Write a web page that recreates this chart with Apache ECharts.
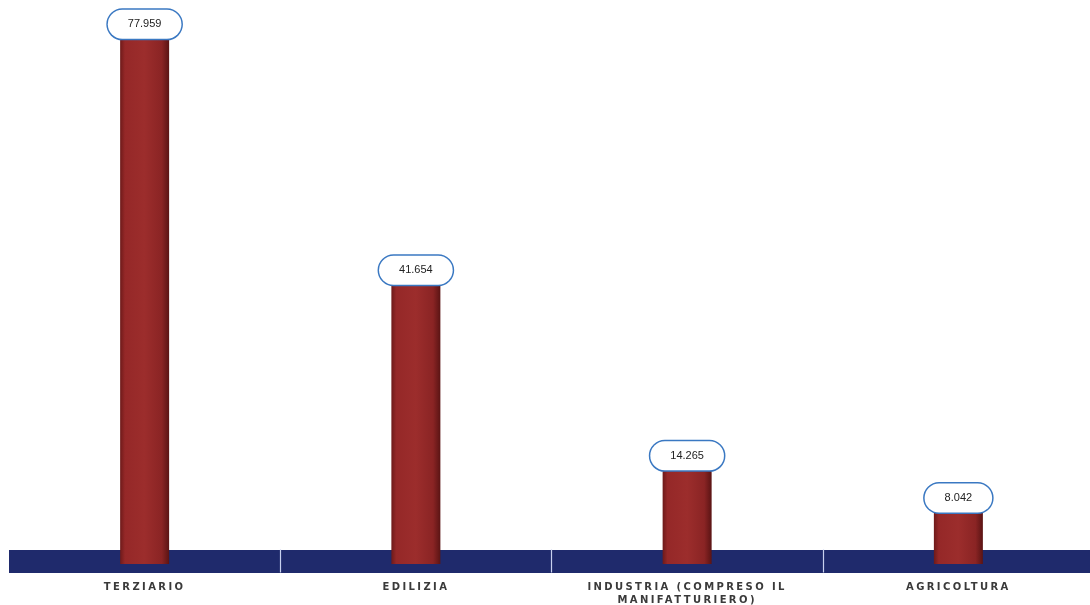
<!DOCTYPE html>
<html>
<head>
<meta charset="utf-8">
<script src="https://cdn.jsdelivr.net/npm/echarts@6/dist/echarts.min.js"></script>
<style>
html,body{margin:0;padding:0;background:#fff;}
#chart{width:1090px;height:605px;}
</style>
</head>
<body>
<div id="chart"></div>
<script>
const categories = ['TERZIARIO', 'EDILIZIA', 'INDUSTRIA (COMPRESO IL\nMANIFATTURIERO)', 'AGRICOLTURA'];
const values = [77959, 41654, 14265, 8042];

function fmt(v) {
  return String(v).replace(/\B(?=(\d{3})+(?!\d))/g, '.');
}

// letter-spaced category labels only
(function () {
  const spaced = new Set();
  categories.forEach(c => c.split('\n').forEach(l => spaced.add(l)));
  const proto = CanvasRenderingContext2D.prototype;
  const orig = proto.fillText;
  proto.fillText = function (t, x, y, w) {
    const on = spaced.has(String(t)) && ('letterSpacing' in this);
    if (on) this.letterSpacing = '2.4px';
    const r = w === undefined ? orig.call(this, t, x, y) : orig.call(this, t, x, y, w);
    if (on) this.letterSpacing = '0px';
    return r;
  };
})();

const chart = echarts.init(document.getElementById('chart'));
chart.setOption({
  backgroundColor: '#ffffff',
  animation: false,
  grid: { left: 9, right: -4, top: 22, bottom: 41, containLabel: false, outerBoundsMode: 'none' },
  xAxis: [
    {
      type: 'category',
      data: categories,
      position: 'bottom',
      offset: -3,
      axisLine: { show: true, onZero: false, lineStyle: { color: '#1f2a6c', width: 23, cap: 'butt' } },
      axisTick: { show: false },
      axisLabel: {
        margin: 20,
        color: '#3a3a3a',
        fontFamily: 'DejaVu Sans',
        fontWeight: 'bold',
        fontSize: 10,
        lineHeight: 13,
        interval: 0
      },
      z: 0
    },
    {
      type: 'category',
      data: categories,
      position: 'bottom',
      offset: 8.5,
      axisLine: { show: false, onZero: false },
      axisLabel: { show: false },
      axisTick: {
        show: true, inside: true, length: 23,
        interval: function (i) { return i > 0; },
        lineStyle: { color: '#c8d0ee', width: 1.2 }
      },
      z: 0
    }
  ],
  yAxis: {
    type: 'value', min: 0, max: 80000, show: false,
    splitLine: { show: false }
  },
  series: [{
    type: 'bar',
    data: values,
    barWidth: 49,
    z: 5,
    itemStyle: {
      color: new echarts.graphic.LinearGradient(0, 0, 1, 0, [
        { offset: 0, color: '#6e1a1a' },
        { offset: 0.1, color: '#952828' },
        { offset: 0.5, color: '#9c2d2c' },
        { offset: 0.85, color: '#8a2424' },
        { offset: 1, color: '#5a1414' }
      ])
    },
    label: {
      show: true,
      position: 'top',
      distance: -3,
      formatter: p => fmt(p.value),
      color: '#222222',
      fontFamily: 'Liberation Sans',
      fontSize: 11,
      backgroundColor: '#ffffff',
      borderColor: '#3a78c2',
      borderWidth: 1.5,
      borderRadius: 16,
      padding: [9, 20]
    }
  }]
});
</script>
</body>
</html>
